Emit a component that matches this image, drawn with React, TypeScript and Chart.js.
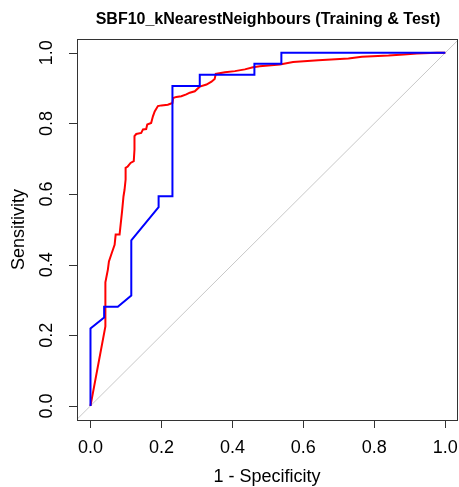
import React, { useEffect, useRef } from "react";
import { Chart, registerables } from "chart.js";

Chart.register(...registerables);

const titleText = "SBF10_kNearestNeighbours (Training & Test)";
const xAxisTitle = "1 - Specificity";
const yAxisTitle = "Sensitivity";
const tickValues = [0, 0.2, 0.4, 0.6, 0.8, 1.0];
const tickLabels = ["0.0", "0.2", "0.4", "0.6", "0.8", "1.0"];

// Test curve (blue)
const testFpr = [0, 0, 0.0385, 0.0385, 0.077, 0.115, 0.115, 0.192, 0.192, 0.231, 0.231, 0.308, 0.308, 0.462, 0.462, 0.538, 0.538, 1.0];
const testTpr = [0, 0.219, 0.25, 0.281, 0.281, 0.3125, 0.469, 0.5625, 0.594, 0.594, 0.906, 0.906, 0.9375, 0.9375, 0.969, 0.969, 1.0, 1.0];

// Training curve (red)
const trainFpr = [0, 0.042, 0.042, 0.049, 0.052, 0.060, 0.068, 0.071, 0.082, 0.084, 0.089, 0.093, 0.096, 0.099, 0.099, 0.105, 0.113, 0.122, 0.124, 0.124, 0.129, 0.143, 0.148, 0.157, 0.160, 0.171, 0.176, 0.181, 0.190, 0.200, 0.218, 0.231, 0.233, 0.242, 0.256, 0.270, 0.280, 0.294, 0.308, 0.327, 0.341, 0.350, 0.353, 0.379, 0.407, 0.435, 0.458, 0.477, 0.534, 0.571, 0.642, 0.727, 0.765, 0.840, 0.883, 0.920, 0.977, 1.0];
const trainTpr = [0, 0.225, 0.35, 0.386, 0.409, 0.433, 0.456, 0.485, 0.485, 0.504, 0.551, 0.593, 0.612, 0.641, 0.674, 0.678, 0.688, 0.693, 0.726, 0.764, 0.77, 0.773, 0.783, 0.784, 0.797, 0.801, 0.82, 0.834, 0.849, 0.851, 0.853, 0.858, 0.872, 0.875, 0.877, 0.882, 0.887, 0.891, 0.904, 0.91, 0.918, 0.926, 0.94, 0.945, 0.948, 0.953, 0.959, 0.962, 0.967, 0.974, 0.979, 0.984, 0.989, 0.992, 0.995, 0.998, 1.0, 1.0];

const diagX = [-0.1, 1.1];
const diagY = [-0.1, 1.1];

const FONT = "'Liberation Sans', Arial, sans-serif";

const axesPlugin = {
  id: "rAxes",
  afterDraw(chart: any) {
    const ctx = chart.ctx;
    const area = chart.chartArea;
    const xs = chart.scales.x;
    const ys = chart.scales.y;
    ctx.save();
    // box
    ctx.strokeStyle = "#333333";
    ctx.lineWidth = 1;
    ctx.strokeRect(Math.round(area.left) + 0.5, Math.round(area.top) + 0.5, Math.round(area.right - area.left), Math.round(area.bottom - area.top));
    // ticks
    const tl = 8;
    ctx.beginPath();
    tickValues.forEach((v) => {
      const px = Math.round(xs.getPixelForValue(v)) + 0.5;
      ctx.moveTo(px, Math.round(area.bottom));
      ctx.lineTo(px, Math.round(area.bottom) + tl);
      const py = Math.round(ys.getPixelForValue(v)) + 0.5;
      ctx.moveTo(Math.round(area.left), py);
      ctx.lineTo(Math.round(area.left) - tl, py);
    });
    ctx.stroke();
    // tick labels
    ctx.fillStyle = "#000000";
    ctx.font = `18px ${FONT}`;
    ctx.textAlign = "center";
    ctx.textBaseline = "middle";
    tickValues.forEach((v, i) => {
      ctx.fillText(tickLabels[i], xs.getPixelForValue(v), 448);
      ctx.save();
      ctx.translate(47.5, ys.getPixelForValue(v));
      ctx.rotate(-Math.PI / 2);
      ctx.fillText(tickLabels[i], 0, 0);
      ctx.restore();
    });
    // axis titles
    const cx = (area.left + area.right) / 2;
    const cy = (area.top + area.bottom) / 2;
    ctx.fillText(xAxisTitle, cx, 477);
    ctx.save();
    ctx.translate(19, cy);
    ctx.rotate(-Math.PI / 2);
    ctx.fillText(yAxisTitle, 0, 0);
    ctx.restore();
    // main title
    ctx.font = `bold 16px ${FONT}`;
    ctx.fillText(titleText, cx + 1, 20);
    ctx.restore();
  },
};

export default function App() {
  const ref = useRef<HTMLCanvasElement | null>(null);
  useEffect(() => {
    if (!ref.current) return;
    const mk = (xa: number[], ya: number[]) => xa.map((x, i) => ({ x, y: ya[i] }));
    const chart = new Chart(ref.current, {
      type: "line",
      data: {
        datasets: [
          {
            label: "Test",
            data: mk(testFpr, testTpr),
            borderColor: "#0000ff",
            borderWidth: 2,
            pointRadius: 0,
            tension: 0,
            fill: false,
          },
          {
            label: "Training",
            data: mk(trainFpr, trainTpr),
            borderColor: "#ff0000",
            borderWidth: 2,
            pointRadius: 0,
            tension: 0,
            fill: false,
          },
          {
            label: "Diagonal",
            data: mk(diagX, diagY),
            borderColor: "#c8c8c8",
            borderWidth: 1,
            pointRadius: 0,
            tension: 0,
            fill: false,
            clip: 0,
          } as any,
        ],
      },
      options: {
        animation: false,
        responsive: false,
        devicePixelRatio: 1,
        parsing: false,
        layout: { padding: { left: 77, top: 39, right: 2, bottom: 67 } },
        plugins: { legend: { display: false }, tooltip: { enabled: false }, title: { display: false } },
        scales: {
          x: { type: "linear", min: -0.038, max: 1.033, display: false },
          y: { type: "linear", min: -0.04, max: 1.039, display: false },
        },
      },
      plugins: [axesPlugin],
    } as any);
    return () => chart.destroy();
  }, []);
  return (
    <div style={{ position: "fixed", left: 0, top: 0, width: 459, height: 487, background: "#ffffff" }}>
      <canvas ref={ref} width={459} height={487} style={{ width: 459, height: 487 }} />
    </div>
  );
}
